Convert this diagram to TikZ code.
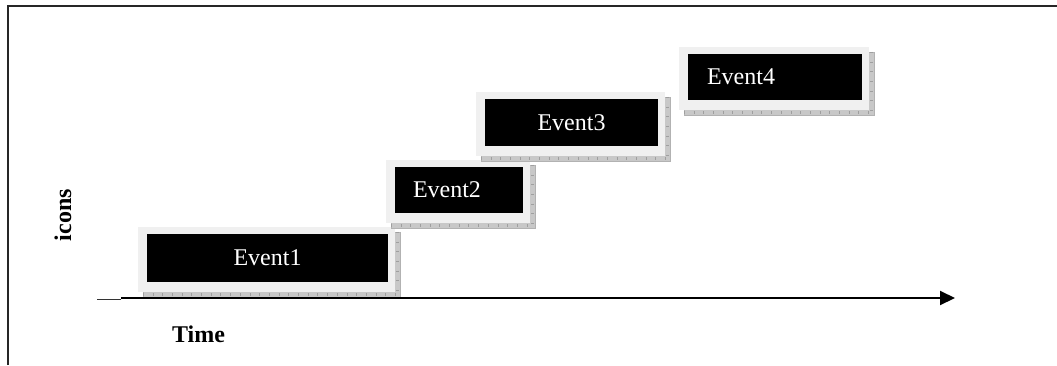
\documentclass[tikz,border=0pt]{standalone}
\usepackage{fontspec}
\setmainfont{Liberation Serif}
\usetikzlibrary{calc,backgrounds,arrows.meta}
\definecolor{panelgray}{HTML}{F0F0F0}
\definecolor{shadegray}{HTML}{C8C8C8}
\tikzset{
  eventbox/.style={fill=black, text=white, inner ysep=0pt, inner xsep=0pt,
    font=\fontsize{24}{28}\selectfont, anchor=center},
  panel/.style={fill=panelgray},
  dropshade/.style={fill=shadegray, draw=gray!60, line width=0.4pt},
  shadeticks/.style={draw=gray!75, line width=3pt, dash pattern=on 0.7pt off 9pt},
  axislabel/.style={font=\fontsize{24}{28}\selectfont\bfseries},
  frameline/.style={line width=1.6pt, draw=black!85},
  axisline/.style={line width=2pt, -{Triangle[length=15pt,width=14pt]}}
}
\begin{document}
\begin{tikzpicture}[x=1pt,y=-1pt]
\useasboundingbox (0,0) rectangle (1057,365);

% open frame: top and left edges
\draw[frameline] (8,365) -- (8,6) -- (1057,6);

% event boxes
\node[eventbox, minimum width=241pt, minimum height=48pt] (e1) at (267.5,258) {Event1};
\node[eventbox, minimum width=128pt, minimum height=46pt, text width=92pt,
      inner xsep=18pt, align=left] (e2) at (459,190) {Event2};
\node[eventbox, minimum width=173pt, minimum height=47pt] (e3) at (571.5,122.5) {Event3};
\node[eventbox, minimum width=174pt, minimum height=46pt, text width=136pt,
      inner xsep=19pt, align=left] (e4) at (775,77) {Event4};

% light panel and ticked drop shadow behind each box
\begin{scope}[on background layer]
\foreach \n in {e1,e2,e3,e4}{
  \path[dropshade] ($(\n.north west)+(-4,-2)$) rectangle ($(\n.south east)+(12,15)$);
  \draw[shadeticks] ($(\n.south west)+(-4,12.5)$) -- ($(\n.south east)+(12,12.5)$);
  \draw[shadeticks] ($(\n.north east)+(9.5,-2)$) -- ($(\n.south east)+(9.5,15)$);
  \path[panel] ($(\n.north west)+(-9,-7)$) rectangle ($(\n.south east)+(7,10)$);
}
\end{scope}

% time axis
\coordinate (a0) at (97,299);
\coordinate (a1) at (121,298);
\coordinate (a2) at (955,298);
\draw[line width=1pt, black!80] (a0) -- (a1 |- a0);
\draw[axisline] (a1) -- (a2);

% axis labels
\node[axislabel] (time) at (198.5,334) {Time};
\node[axislabel, rotate=90] (icons) at (63,215) {icons};
\end{tikzpicture}
\end{document}
